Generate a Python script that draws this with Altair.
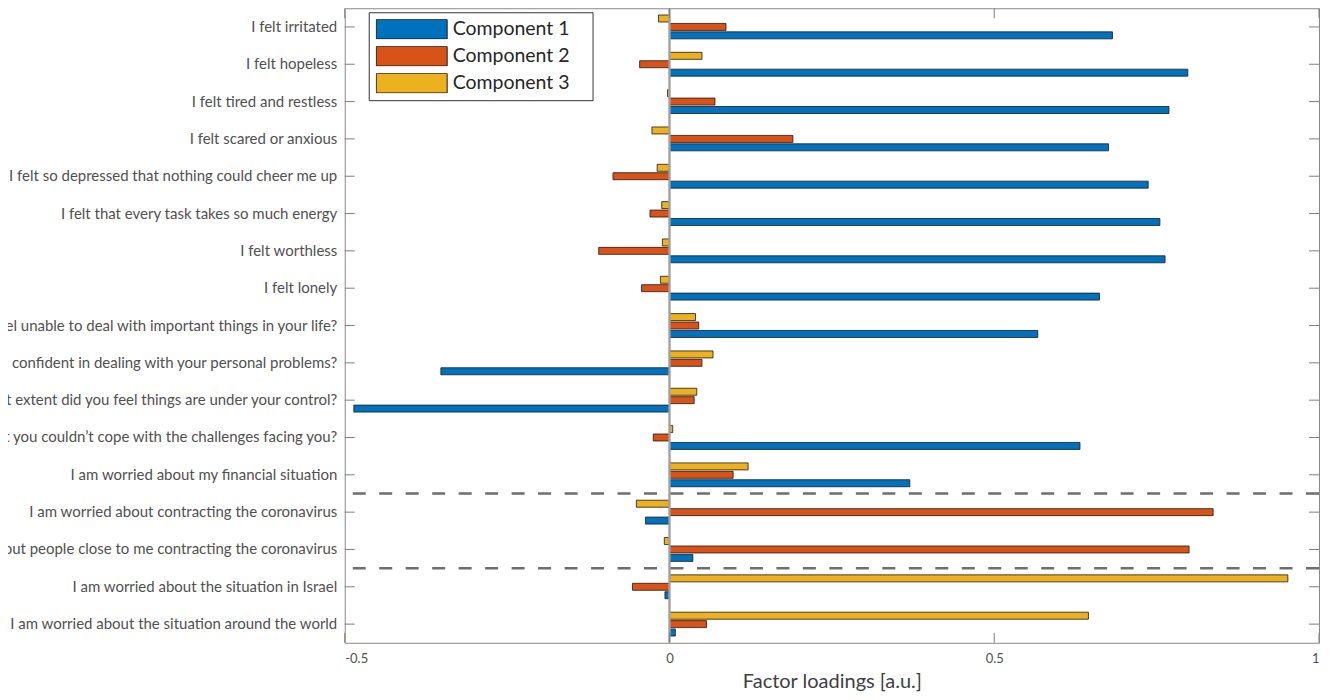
import altair as alt
import pandas as pd

items = [
    "I felt irritated",
    "I felt hopeless",
    "I felt tired and restless",
    "I felt scared or anxious",
    "I felt so depressed that nothing could cheer me up",
    "I felt that every task takes so much energy",
    "I felt worthless",
    "I felt lonely",
    "To what extent did you feel unable to deal with important things in your life?",
    "To what extent did you feel confident in dealing with your personal problems?",
    "To what extent did you feel things are under your control?",
    "To what extent did you feel that you couldn\u2019t cope with the challenges facing you?",
    "I am worried about my financial situation",
    "I am worried about contracting the coronavirus",
    "I am worried about people close to me contracting the coronavirus",
    "I am worried about the situation in Israel",
    "I am worried about the situation around the world",
]
comp1 = [0.682, 0.798, 0.769, 0.676, 0.737, 0.755, 0.763, 0.662, 0.567, -0.352,
         -0.486, 0.632, 0.370, -0.037, 0.036, -0.007, 0.009]
comp2 = [0.087, -0.046, 0.070, 0.190, -0.087, -0.030, -0.109, -0.043, 0.045, 0.050,
         0.038, -0.025, 0.098, 0.837, 0.800, -0.057, 0.057]
comp3 = [-0.017, 0.050, -0.003, -0.027, -0.019, -0.012, -0.011, -0.014, 0.040, 0.067,
         0.042, 0.005, 0.121, -0.051, -0.008, 0.952, 0.645]
components = ["Component 1", "Component 2", "Component 3"]
colors = ["#0072BD", "#D95319", "#EDB120"]
x_ticks = [-0.5, 0, 0.5, 1]
separators_before = [
    "I am worried about contracting the coronavirus",
    "I am worried about the situation in Israel",
]

W, H = 975, 635
FONT = "Lato"
AXIS_GRAY = "#7f7f7f"

rows = []
for comp, vals in zip(components, [comp1, comp2, comp3]):
    for it, v in zip(items, vals):
        rows.append({"item": it, "component": comp, "value": v})
df = pd.DataFrame(rows)
items_df = pd.DataFrame({"item": items})
ticks_df = pd.DataFrame({"value": x_ticks})
sep_df = pd.DataFrame({"item": separators_before})

xscale = alt.Scale(domain=[-0.5, 1], nice=False, zero=False)
yscale = alt.Scale(paddingInner=0, paddingOuter=0)

x_axis = alt.Axis(values=x_ticks, title="Factor loadings [a.u.]", grid=False,
                  ticks=False, tickSize=0, domain=False, labelPadding=10,
                  labelExpr="'' + datum.value", titlePadding=6)
y_axis = alt.Axis(title=None, ticks=False, tickSize=0, domain=False,
                  labelPadding=8, labelLimit=1000, grid=False)

legend = alt.Legend(
    title=None, orient="none", legendX=24, legendY=4,
    symbolType="M-1,-0.275L1,-0.275L1,0.275L-1,0.275Z",
    symbolSize=5041, symbolStrokeColor="#1a1a1a", symbolStrokeWidth=1,
    symbolOpacity=1, clipHeight=20, rowPadding=7, padding=7, labelOffset=5,
    labelFont=FONT, labelFontSize=19.5, labelColor="#262626",
    strokeColor="#333333", fillColor="white",
    labelExpr="datum.label + '\u2800'",
)

bars = alt.Chart(df).mark_bar(stroke="#1a1a1a", strokeWidth=0.8).encode(
    x=alt.X("value:Q", scale=xscale, axis=x_axis),
    y=alt.Y("item:N", sort=items, scale=yscale, axis=y_axis),
    yOffset=alt.YOffset("component:N",
                        scale=alt.Scale(domain=["Component 3", "Component 2", "Component 1"],
                                        paddingInner=0.17, paddingOuter=0.8)),
    color=alt.Color("component:N", scale=alt.Scale(domain=components, range=colors),
                    legend=legend),
)

zero_line = alt.Chart(ticks_df).mark_rule(color="#a0a0a0", strokeWidth=1.5).encode(
    x=alt.datum(0, scale=xscale, axis=x_axis)
)

seps = alt.Chart(sep_df).mark_rule(color="#6e6e6e", strokeWidth=2.5,
                                   strokeDash=[13, 13.5]).encode(
    y=alt.Y("item:N", sort=items, scale=yscale, bandPosition=0, axis=y_axis)
)

left_ticks = alt.Chart(items_df).mark_rule(color=AXIS_GRAY).encode(
    y=alt.Y("item:N", sort=items, scale=yscale, axis=y_axis),
    x=alt.value(0), x2=alt.value(10),
)
right_ticks = alt.Chart(items_df).mark_rule(color=AXIS_GRAY).encode(
    y=alt.Y("item:N", sort=items, scale=yscale, axis=y_axis),
    x=alt.value(W - 10), x2=alt.value(W),
)
bottom_ticks = alt.Chart(ticks_df).mark_rule(color=AXIS_GRAY).encode(
    x=alt.X("value:Q", scale=xscale, axis=x_axis),
    y=alt.value(H - 10), y2=alt.value(H),
)
top_ticks = alt.Chart(ticks_df).mark_rule(color=AXIS_GRAY).encode(
    x=alt.X("value:Q", scale=xscale, axis=x_axis),
    y=alt.value(0), y2=alt.value(10),
)

chart = alt.layer(
    bars, zero_line, seps, left_ticks, right_ticks, bottom_ticks, top_ticks
).properties(
    width=W, height=H,
    autosize=alt.AutoSizeParams(type="none"),
    padding={"left": 337, "top": 0, "right": 10, "bottom": 52},
).configure_view(
    stroke="#888888", strokeWidth=1
).configure_axis(
    labelFont=FONT, labelFontSize=15, labelColor="#505050",
    titleFont=FONT, titleFontSize=20, titleColor="#404040", titleFontWeight="normal",
).configure_axisX(
    labelFontSize=13
)

chart.save("out.html", embed_options={"renderer": "svg", "actions": False})
